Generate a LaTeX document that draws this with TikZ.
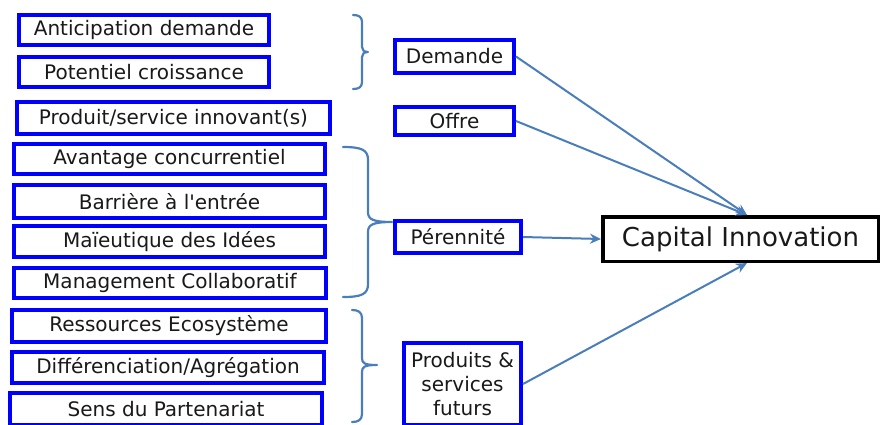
\documentclass[tikz,border=0pt]{standalone}
\usepackage{fontspec}
\setmainfont{DejaVu Sans}
% same face without the TeX quote mapping, for a straight apostrophe
\newfontfamily\plaindv{DejaVu Sans}
\usetikzlibrary{arrows.meta}
\definecolor{boxblue}{HTML}{0000FF}
\definecolor{linkblue}{HTML}{4A7EBB}
\begin{document}
\begin{tikzpicture}[x=1pt,y=-1pt,
  itembox/.style={draw=boxblue, line width=4pt, fill=white, inner sep=0pt,
    text=black!90, font=\fontsize{20}{24}\selectfont},
  goalbox/.style={draw=black, line width=3.5pt, fill=white, inner sep=0pt,
    text=black!90, font=\fontsize{26}{30}\selectfont},
  brace/.style={draw=linkblue, line width=2.2pt, line cap=round, line join=round},
  link/.style={draw=linkblue, line width=2pt, -{Stealth[length=11pt,width=10pt]}}]
\clip (0,0) rectangle (883,424);

% factors, left column
\node[itembox, minimum width=250pt, minimum height=30pt] (ant) at (144,30) {Anticipation demande};
\node[itembox, minimum width=250pt, minimum height=30pt] (pot) at (144,72) {Potentiel croissance};
\node[itembox, minimum width=313pt, minimum height=32pt] (prod) at (173.5,118) {Produit/service innovant(s)};
\node[itembox, minimum width=311pt, minimum height=30pt] (ava) at (169.5,159) {Avantage concurrentiel};
\node[itembox, minimum width=311pt, minimum height=33pt] (bar) at (169.5,201.5) {Barrière à l{\plaindv '}entrée};
\node[itembox, minimum width=311pt, minimum height=31pt] (mai) at (169.5,241.5) {Maïeutique des Idées};
\node[itembox, minimum width=312pt, minimum height=30pt] (man) at (170,283) {Management Collaboratif};
\node[itembox, minimum width=314pt, minimum height=32pt] (res) at (169,326) {Ressources Ecosystème};
\node[itembox, minimum width=312pt, minimum height=31pt] (dif) at (168,367.5) {Différenciation/Agrégation};
\node[itembox, minimum width=312pt, minimum height=32pt] (sens) at (166,409) {Sens du Partenariat};

% groups, middle column
\node[itembox, minimum width=119pt, minimum height=33pt] (dem) at (454.5,56.5) {Demande};
\node[itembox, minimum width=119pt, minimum height=28pt] (off) at (454.5,121) {Offre};
\node[itembox, minimum width=126pt, minimum height=32pt] (per) at (458,237) {Pérennité};
\node[itembox, minimum width=117pt, minimum height=82pt, align=center] (pf) at (462.5,384) {Produits \&\\services\\futurs};

% result
\node[goalbox, minimum width=275.5pt, minimum height=44.5pt] (cap) at (740.5,239) {Capital Innovation};

% curly braces grouping the factors
\draw[brace] (353,15) .. controls (359,15) and (362,17) .. (362,22) -- (362,47)
  .. controls (362,50) and (364,52) .. (368,52)
  .. controls (364,52) and (362,54) .. (362,57) -- (362,82)
  .. controls (362,87) and (359,89) .. (353,89);
\draw[brace] (343,147) .. controls (362,147) and (368,150) .. (368,160) -- (368,212)
  .. controls (368,219) and (372,222) .. (392,222)
  .. controls (372,222) and (368,225) .. (368,232) -- (368,284)
  .. controls (368,294) and (362,297) .. (343,297);
\draw[brace] (352,310) .. controls (358,310) and (362,312) .. (362,318) -- (362,358)
  .. controls (362,363) and (364,365) .. (377,365)
  .. controls (364,365) and (362,367) .. (362,372) -- (362,414)
  .. controls (362,420) and (358,422) .. (352,422);

% connectors to the result
\draw[link] (dem.east) -- ([xshift=6.5pt]cap.north);
\draw[link] (off.east) -- ([xshift=6.5pt]cap.north);
\draw[link] (per.east) -- (cap.west);
\draw[link] (pf.east) -- ([xshift=6.5pt]cap.south);
\end{tikzpicture}
\end{document}
